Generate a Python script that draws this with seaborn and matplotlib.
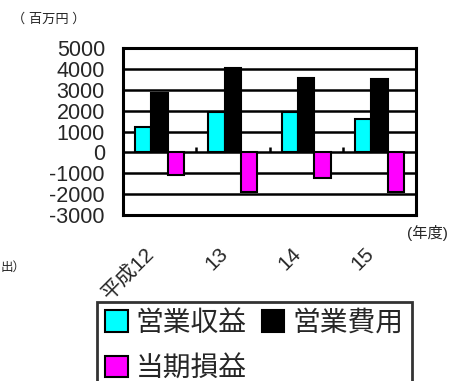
import numpy as np
import pandas as pd
import matplotlib
matplotlib.use("Agg")
import matplotlib.pyplot as plt
import matplotlib.transforms as mtransforms
from matplotlib.patches import Patch
import seaborn as sns

# データ（百万円）
years = ["平成12", "13", "14", "15"]
series = ["営業収益", "営業費用", "当期損益"]
revenue = [1200, 1950, 1950, 1580]
expense = [2850, 4050, 3550, 3500]
profit = [-1100, -1900, -1250, -1900]
colors = ["#00FFFF", "#000000", "#FF00FF"]
yticks = [5000, 4000, 3000, 2000, 1000, 0, -1000, -2000, -3000]

sns.set_style("white")
plt.rcParams["font.family"] = ["Liberation Sans", "Noto Sans CJK JP"]

df = pd.DataFrame({
    "year": years * 3,
    "series": [series[0]] * 4 + [series[1]] * 4 + [series[2]] * 4,
    "value": revenue + expense + profit,
})

fig = plt.figure(figsize=(4.57, 3.81), dpi=100)
ax = fig.add_axes([123 / 457, 1 - 215 / 381, (416 - 123) / 457, (215 - 48) / 381])

sns.barplot(data=df, x="year", y="value", hue="series", palette=colors,
            saturation=1, width=0.67, edgecolor="black", linewidth=1.5,
            legend=False, ax=ax)

ax.set_ylim(-3000, 5000)
ax.set_xlim(-0.5, len(years) - 0.5)
ax.set_yticks(yticks)
ax.set_yticklabels([str(v) for v in yticks], fontsize=15.5)
for v in yticks:
    ax.axhline(v, color="black", lw=1.8, zorder=0)

# 区切りの目盛り
ax.vlines(np.arange(len(years) - 1) + 0.5, 0, 250, color="black", lw=1.8)

ax.tick_params(axis="y", length=0, pad=13)
ax.tick_params(axis="x", length=0, pad=26)
ax.set_xticks(range(len(years)))
ax.set_xticklabels(years, fontsize=15, rotation=45, ha="right", va="center",
                   rotation_mode="anchor")
offset = mtransforms.ScaledTranslation(-8 / 100, 0, fig.dpi_scale_trans)
for lab in ax.get_xticklabels():
    lab.set_transform(lab.get_transform() + offset)

ax.set_xlabel("")
ax.set_ylabel("")
for s in ax.spines.values():
    s.set_color("black")
    s.set_linewidth(2.2)

fig.text(12 / 457, 1 - 19 / 381, "（ 百万円 ）", fontsize=9.5, va="center", ha="left")
fig.text(407 / 457, 1 - 233 / 381, "(年度)", fontsize=11, va="center", ha="left")
fig.text(1 / 457, 1 - 268 / 381, "出）", fontsize=9, va="center", ha="left")

handles = [Patch(facecolor=colors[0], edgecolor="black", lw=1.5),
           Patch(facecolor=colors[2], edgecolor="black", lw=1.5),
           Patch(facecolor=colors[1], edgecolor="black", lw=1.5)]
labels = [series[0], series[2], series[1]]
leg = fig.legend(handles, labels, loc="upper left", ncol=2,
                 bbox_to_anchor=(97 / 457, 1 - 302 / 381),
                 fontsize=20, frameon=True, fancybox=False,
                 handlelength=0.8, handleheight=0.8, handletextpad=0.3,
                 columnspacing=0.55, labelspacing=0.7, borderpad=0.3,
                 borderaxespad=0)
leg.get_frame().set_edgecolor("black")
leg.get_frame().set_linewidth(2)

fig.savefig("out.png", dpi=100)
